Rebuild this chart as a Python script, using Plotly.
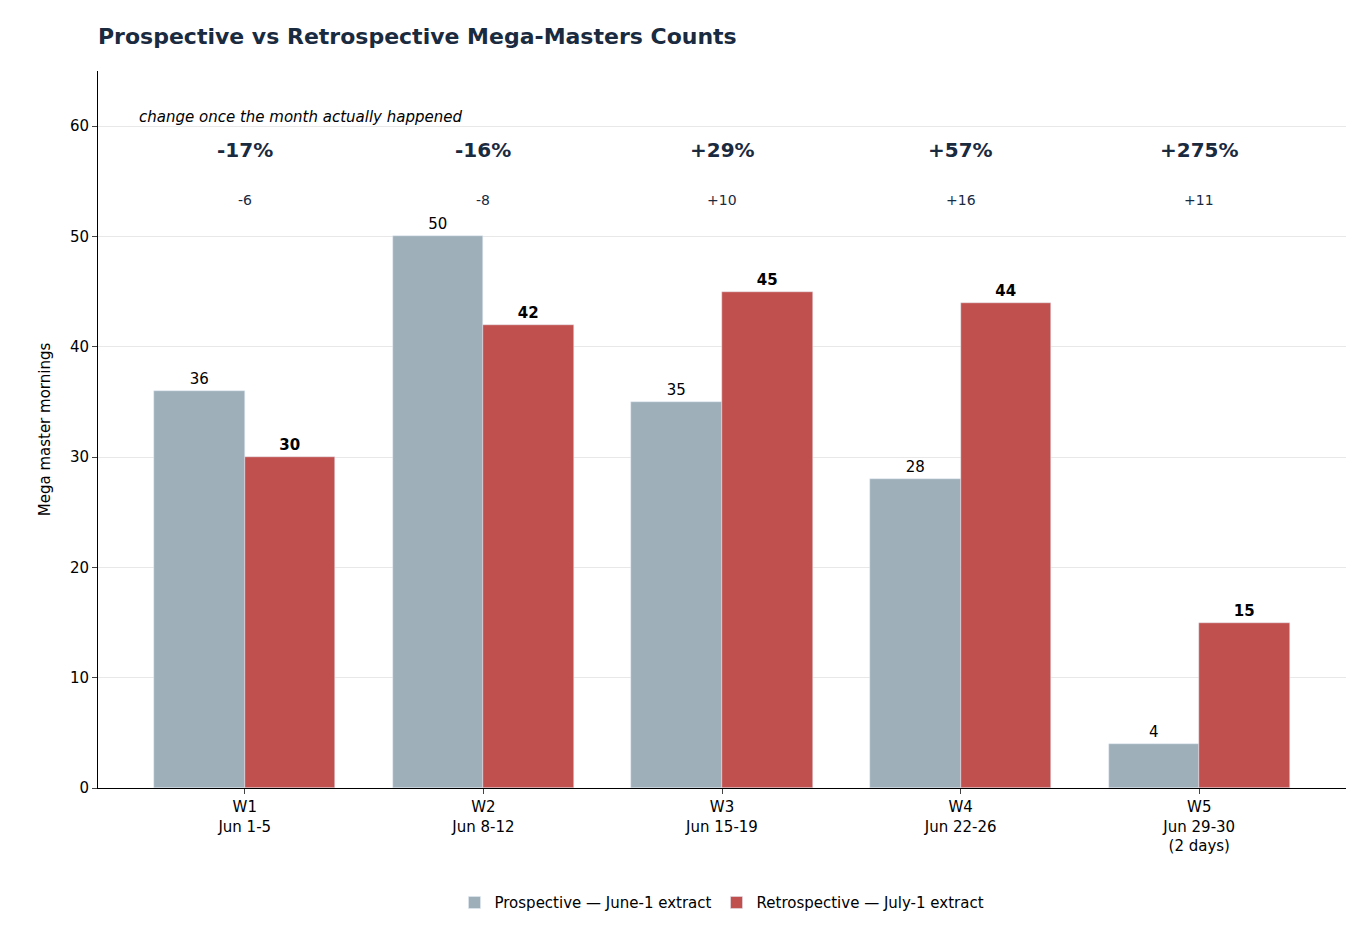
import plotly.graph_objects as go

weeks = ["W1<br>Jun 1-5", "W2<br>Jun 8-12", "W3<br>Jun 15-19", "W4<br>Jun 22-26",
         "W5<br>Jun 29-30<br>(2 days)"]
prospective = [36, 50, 35, 28, 4]
retrospective = [30, 42, 45, 44, 15]
pct_labels = ["-17%", "-16%", "+29%", "+57%", "+275%"]
diff_labels = ["-6", "-8", "+10", "+16", "+11"]

xs = list(range(len(weeks)))
w = 0.38
font = "DejaVu Sans"

fig = go.Figure()
fig.add_trace(go.Bar(
    x=[i - w / 2 for i in xs], y=prospective, width=w,
    name="Prospective — June-1 extract", marker_color="#9eafba",
    text=[str(v) for v in prospective], textposition="outside",
    textfont=dict(size=15, color="black"), cliponaxis=False,
))
fig.add_trace(go.Bar(
    x=[i + w / 2 for i in xs], y=retrospective, width=w,
    name="Retrospective — July-1 extract", marker_color="#c0504d",
    text=[f"<b>{v}</b>" for v in retrospective], textposition="outside",
    textfont=dict(size=15, color="black"), cliponaxis=False,
))

for i in xs:
    fig.add_annotation(x=i, y=57.8, text=f"<b>{pct_labels[i]}</b>", showarrow=False,
                       font=dict(size=20, color="#1a2a3f"))
    fig.add_annotation(x=i, y=53.3, text=diff_labels[i], showarrow=False,
                       font=dict(size=14, color="#1a2a3f"))

fig.add_annotation(x=-0.45, y=60.8, text="<i>change once the month actually happened</i>",
                   showarrow=False, xanchor="left", font=dict(size=15, color="black"))

fig.update_layout(
    width=1354, height=929,
    margin=dict(l=90, r=16, t=63, b=149),
    plot_bgcolor="white", paper_bgcolor="white",
    font=dict(family=font, size=15, color="black"),
    title=dict(text="<b>Prospective vs Retrospective Mega-Masters Counts</b>",
               x=90 / 1354, xanchor="left", y=0.97, yanchor="middle",
               font=dict(size=22, color="#1a2a3f")),
    barmode="overlay", bargap=0,
    showlegend=True,
    legend=dict(orientation="h", x=0.5, xanchor="center", y=-0.16, yanchor="middle",
                font=dict(size=15)),
    xaxis=dict(tickmode="array", tickvals=xs, ticktext=weeks, range=[-0.615, 4.615],
               showline=True, linecolor="black", ticks="outside", ticklen=5,
               showgrid=False, zeroline=False),
    yaxis=dict(range=[0, 65], dtick=10, showline=True, linecolor="black",
               ticks="outside", ticklen=5, showgrid=True, gridcolor="#e8e8e8",
               zeroline=False, title=dict(text="Mega master mornings", font=dict(size=15))),
)

fig.write_html("out.html")
